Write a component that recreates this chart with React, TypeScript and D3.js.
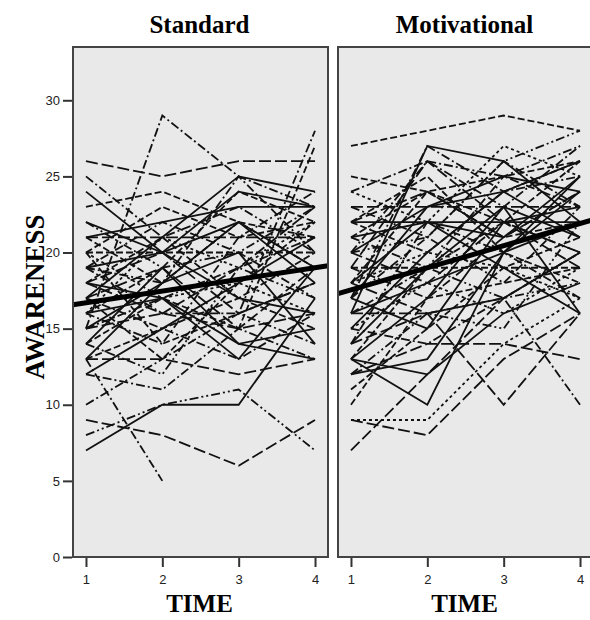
import React, { useEffect, useRef } from "react";
import * as d3 from "d3";

const times = [1, 2, 3, 4];
const yTicks = [0, 5, 10, 15, 20, 25, 30];
const panelNames = ["Standard", "Motivational"];

// one row per subject: awareness at time 1..4 (null = missing)
const standardRows: (number | null)[][] = [
  [26, 25, 26, 26], [15, 29, 25, 23], [24, 20, 17, 16], [23, 24, 22, 21],
  [21, 21, 21, 21], [20, 20, 20, 20], [21, 22, 23, 23], [17, 21, 25, 24],
  [19, 18, 25, 20], [19, 16, 16, 28], [14, 17, 15, 27], [7, 10, 10, 17],
  [8, 10, 11, 7], [9, 8, 6, 9], [13, 5, null, null], [10, 13, 16, 14],
  [13, 13, 12, 13], [22, 19, 20, 23], [16, 21, 19, 22], [18, 17, 14, 13],
  [20, 14, 16, 18], [13, 18, 22, 19], [15, 16, 15, 16], [17, 15, 13, 16],
  [12, 15, 18, 21], [18, 21, 17, 15], [16, 19, 24, 22], [14, 12, 19, 17],
  [19, 20, 22, 18], [17, 19, 15, 19], [16, 14, 21, 24], [20, 17, 18, 16],
  [15, 18, 20, 14], [18, 16, 19, 23], [13, 15, 17, 20], [14, 19, 14, 15],
  [19, 22, 20, 17], [17, 13, 18, 22], [16, 17, 13, 19], [12, 11, 15, 13],
  [20, 23, 21, 22], [25, 21, 23, 20], [22, 20, 24, 23], [15, 17, 19, 21],
  [18, 20, 16, 18], [21, 18, 22, 19],
];
const standardStyles = [
  "L", "DD", "S", "D", "L", "D", "S", "S", "DD", "DD", "D", "S",
  "DDD", "L", "DD", "DD", "L", "DDD", "O", "S", "D", "S", "L", "DD",
  "S", "D", "D", "DDD", "S", "L", "DD", "O", "S", "L", "D", "S",
  "DD", "D", "S", "DD", "D", "DD", "S", "DD", "L", "D",
];

const motivationalRows: (number | null)[][] = [
  [27, 28, 29, 28], [9, 9, 14, 17], [7, 12, 17, 20], [9, 8, 13, 16],
  [13, 10, 20, 22], [13, 12, 16, 18], [15, 14, 17, 10], [14, 16, 10, 16],
  [25, 24, 25, 26], [24, 26, 23, 27], [23, 23, 23, 23], [22, 22, 22, 22],
  [19, 19, 19, 19], [16, 16, 17, 20], [12, 14, 14, 13], [17, 27, 24, 25],
  [16, 27, 26, 22], [20, 21, 26, 28], [18, 22, 21, 25], [15, 20, 24, 26],
  [21, 24, 22, 20], [19, 17, 21, 24], [18, 20, 19, 17], [22, 25, 20, 18],
  [14, 19, 23, 21], [17, 21, 18, 23], [20, 18, 22, 19], [16, 18, 20, 24],
  [11, 15, 19, 21], [13, 17, 23, 16], [21, 19, 17, 18], [12, 13, 20, 25],
  [18, 24, 21, 22], [23, 21, 26, 23], [19, 26, 22, 20], [15, 18, 16, 19],
  [17, 15, 22, 23], [22, 20, 24, 26], [14, 22, 20, 17], [20, 23, 24, 21],
  [10, 17, 18, 19], [16, 19, 25, 27], [21, 22, 19, 16], [18, 16, 17, 20],
  [24, 22, 27, 25], [12, 16, 15, 22], [20, 26, 25, 23], [17, 23, 25, 24],
  [13, 19, 22, 26], [22, 24, 21, 24],
];
const motivationalStyles = [
  "D", "O", "L", "L", "S", "S", "DD", "L", "D", "DD", "L", "S",
  "D", "L", "L", "DD", "S", "DDD", "S", "S", "D", "DD", "O", "D",
  "S", "DD", "L", "S", "D", "S", "DDD", "S", "D", "DD", "L", "O",
  "S", "D", "DD", "S", "D", "DD", "S", "L", "O", "DDD", "DD", "S",
  "D", "L",
];

// fitted group lines: value at time 1 and time 4
const standardFit = [16.7, 19.0];
const motivationalFit = [17.55, 21.9];

const dashes: Record<string, string | null> = {
  S: null,
  D: "7,3",
  L: "12,4",
  DD: "9,3,2,3",
  DDD: "9,3,2,3,2,3",
  O: "3,3",
};

const serif = "Liberation Serif, Times New Roman, serif";
const sans = "Liberation Sans, Arial, sans-serif";

export default function App() {
  const ref = useRef<SVGSVGElement>(null);

  useEffect(() => {
    const svg = d3.select(ref.current);
    svg.selectAll("*").remove();

    const top = 47, bottom = 557, panelW = 255;
    const lefts = [73, 338];
    const y = d3.scaleLinear().domain([0, 33.5]).range([bottom, top]);
    const groups = [
      { rows: standardRows, styles: standardStyles, fit: standardFit },
      { rows: motivationalRows, styles: motivationalStyles, fit: motivationalFit },
    ];

    groups.forEach((grp, p) => {
      const x0 = lefts[p];
      const x = d3.scaleLinear().domain([0.83, 4.17]).range([x0, x0 + panelW]);
      const g = svg.append("g");

      g.append("rect")
        .attr("x", x0).attr("y", top)
        .attr("width", panelW).attr("height", bottom - top)
        .attr("fill", "#e9e9e9");

      const line = d3.line<number | null>()
        .defined(d => d !== null)
        .x((_, i) => x(times[i]))
        .y(d => y(d as number));

      g.selectAll(".subj")
        .data(grp.rows)
        .join("path")
        .attr("d", d => line(d))
        .attr("fill", "none")
        .attr("stroke", "#111")
        .attr("stroke-width", 1.8)
        .attr("stroke-dasharray", (_, i) => dashes[grp.styles[i]] || null);

      const fitScale = d3.scaleLinear().domain([1, 4]).range(grp.fit);
      const dom = x.domain();
      g.append("line")
        .attr("x1", x(dom[0])).attr("y1", y(fitScale(dom[0])))
        .attr("x2", x(dom[1])).attr("y2", y(fitScale(dom[1])))
        .attr("stroke", "#000")
        .attr("stroke-width", 5);

      g.append("rect")
        .attr("x", x0).attr("y", top)
        .attr("width", panelW).attr("height", bottom - top)
        .attr("fill", "none")
        .attr("stroke", "#444")
        .attr("stroke-width", 2);

      const xAxis = d3.axisBottom(x).tickValues(times).tickFormat(d3.format("d")).tickSize(9).tickSizeOuter(0);
      const ax = g.append("g").attr("transform", `translate(0,${bottom + 1})`).call(xAxis);
      ax.select(".domain").remove();
      ax.selectAll("line").attr("stroke", "#333").attr("stroke-width", 2);
      ax.selectAll("text")
        .attr("font-family", sans)
        .attr("font-size", 13).attr("fill", "#222").attr("dy", "1.1em");

      g.append("text")
        .attr("x", x0 + panelW / 2 - 1).attr("y", 33)
        .attr("text-anchor", "middle")
        .attr("font-family", serif)
        .attr("font-weight", "bold").attr("font-size", 25)
        .text(panelNames[p]);

      g.append("text")
        .attr("x", x0 + panelW / 2 - 1).attr("y", 612)
        .attr("text-anchor", "middle")
        .attr("font-family", serif)
        .attr("font-weight", "bold").attr("font-size", 25)
        .text("TIME");
    });

    const yAxis = d3.axisLeft(y).tickValues(yTicks).tickSize(9).tickSizeOuter(0);
    const ay = svg.append("g").attr("transform", `translate(${lefts[0] - 1},0)`).call(yAxis);
    ay.select(".domain").remove();
    ay.selectAll("line").attr("stroke", "#333").attr("stroke-width", 2);
    ay.selectAll("text")
      .attr("font-family", sans)
      .attr("font-size", 13).attr("fill", "#222");

    svg.append("text")
      .attr("transform", `translate(44,297) rotate(-90)`)
      .attr("text-anchor", "middle")
      .attr("font-family", serif)
      .attr("font-weight", "bold").attr("font-size", 27)
      .text("AWARENESS");
  }, []);

  return (
    <svg ref={ref} width={590} height={620}
      style={{ position: "absolute", left: 0, top: 0, background: "#fff" }} />
  );
}
